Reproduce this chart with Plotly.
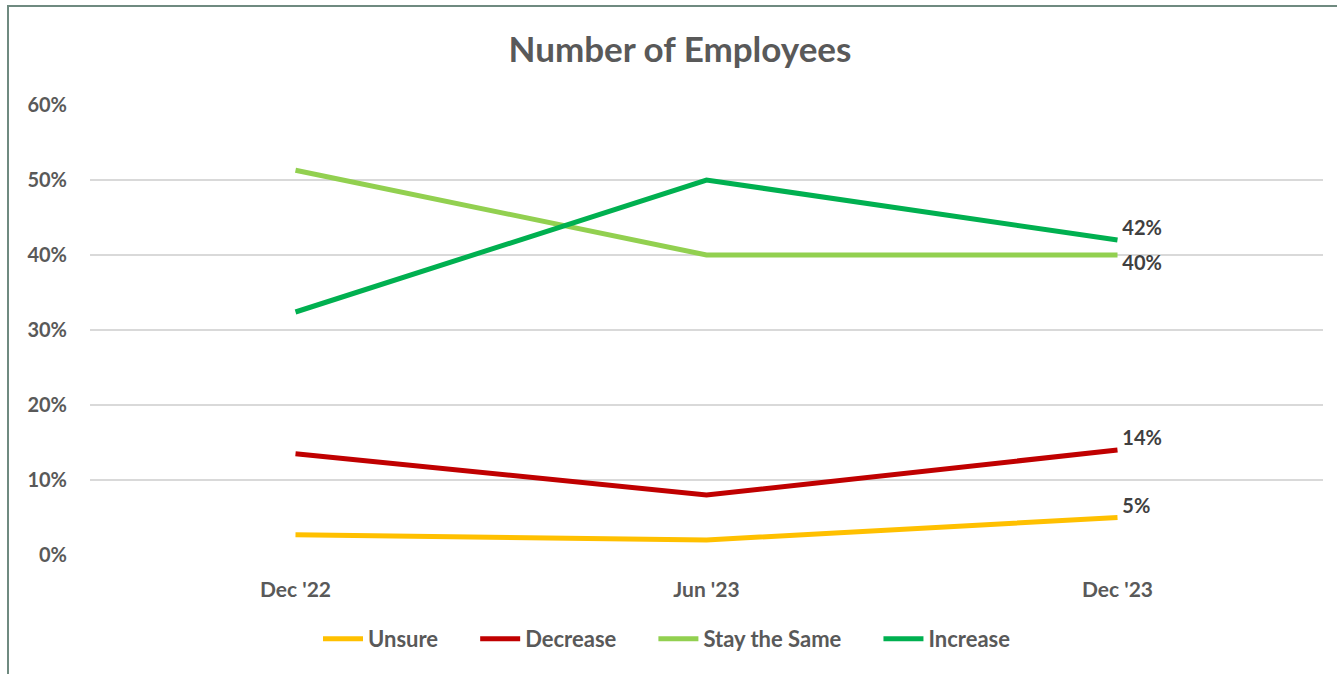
import plotly.graph_objects as go

periods = ["Dec '22", "Jun '23", "Dec '23"]
unsure = [0.027, 0.020, 0.05]
decrease = [0.135, 0.08, 0.14]
stay_same = [0.513, 0.40, 0.40]
increase = [0.324, 0.50, 0.42]

series = [
    ("Unsure", unsure, "#FFC000", "top right"),
    ("Decrease", decrease, "#C00000", "top right"),
    ("Stay the Same", stay_same, "#92D050", "bottom right"),
    ("Increase", increase, "#00B050", "top right"),
]

TEXT = "#595959"
FONT = "Lato"
PAD = "\u00a0" * 6  # extra room between legend entries

fig = go.Figure()
for name, vals, color, pos in series:
    labels = [""] * (len(vals) - 1) + [f"\u00a0{vals[-1]:.0%}"]
    fig.add_trace(go.Scatter(
        x=periods, y=vals, name=name + PAD, mode="lines+text",
        line=dict(color=color, width=5),
        text=labels, textposition=pos,
        textfont=dict(family=FONT, size=20, color="#404040", weight="bold"),
        cliponaxis=False,
    ))

W, H = 1337, 674
L, R, T, B = 90, 14, 105, 119
pw = W - L - R
ph = H - T - B

fig.update_layout(
    width=W, height=H,
    margin=dict(l=L, r=R, t=T, b=B),
    paper_bgcolor="white", plot_bgcolor="white",
    title=dict(text="<b>Number of Employees</b>", x=680 / W, xref="container",
               y=1 - 50 / H, yref="container", xanchor="center", yanchor="middle",
               font=dict(family=FONT, size=35, color=TEXT)),
    xaxis=dict(range=[-0.5, 2.5], showgrid=False, zeroline=False, showline=False,
               ticks="", ticklabelstandoff=20,
               tickfont=dict(family=FONT, size=21, color=TEXT, weight="bold")),
    yaxis=dict(range=[0, 0.6], dtick=0.1, tickformat=".0%", gridcolor="#d9d9d9",
               gridwidth=1.5, zeroline=False, showline=False, ticks="",
               ticklabelstandoff=22,
               tickfont=dict(family=FONT, size=20, color=TEXT, weight="bold")),
    legend=dict(orientation="h", xref="container", yref="container",
                x=683 / W, y=1 - 639 / H, xanchor="center", yanchor="middle",
                font=dict(family=FONT, size=22, color=TEXT, weight="bold"),
                itemwidth=40, tracegroupgap=0),
    showlegend=True,
)

# outer frame around the chart area
fig.add_shape(type="rect", xref="paper", yref="paper",
              x0=(8 - L) / pw, x1=(W + 60 - L) / pw,
              y0=-(B + 60) / ph, y1=(H - 6 - B) / ph,
              line=dict(color="#6f8a80", width=2), fillcolor="rgba(0,0,0,0)", layer="below")

fig.write_html("out.html")
